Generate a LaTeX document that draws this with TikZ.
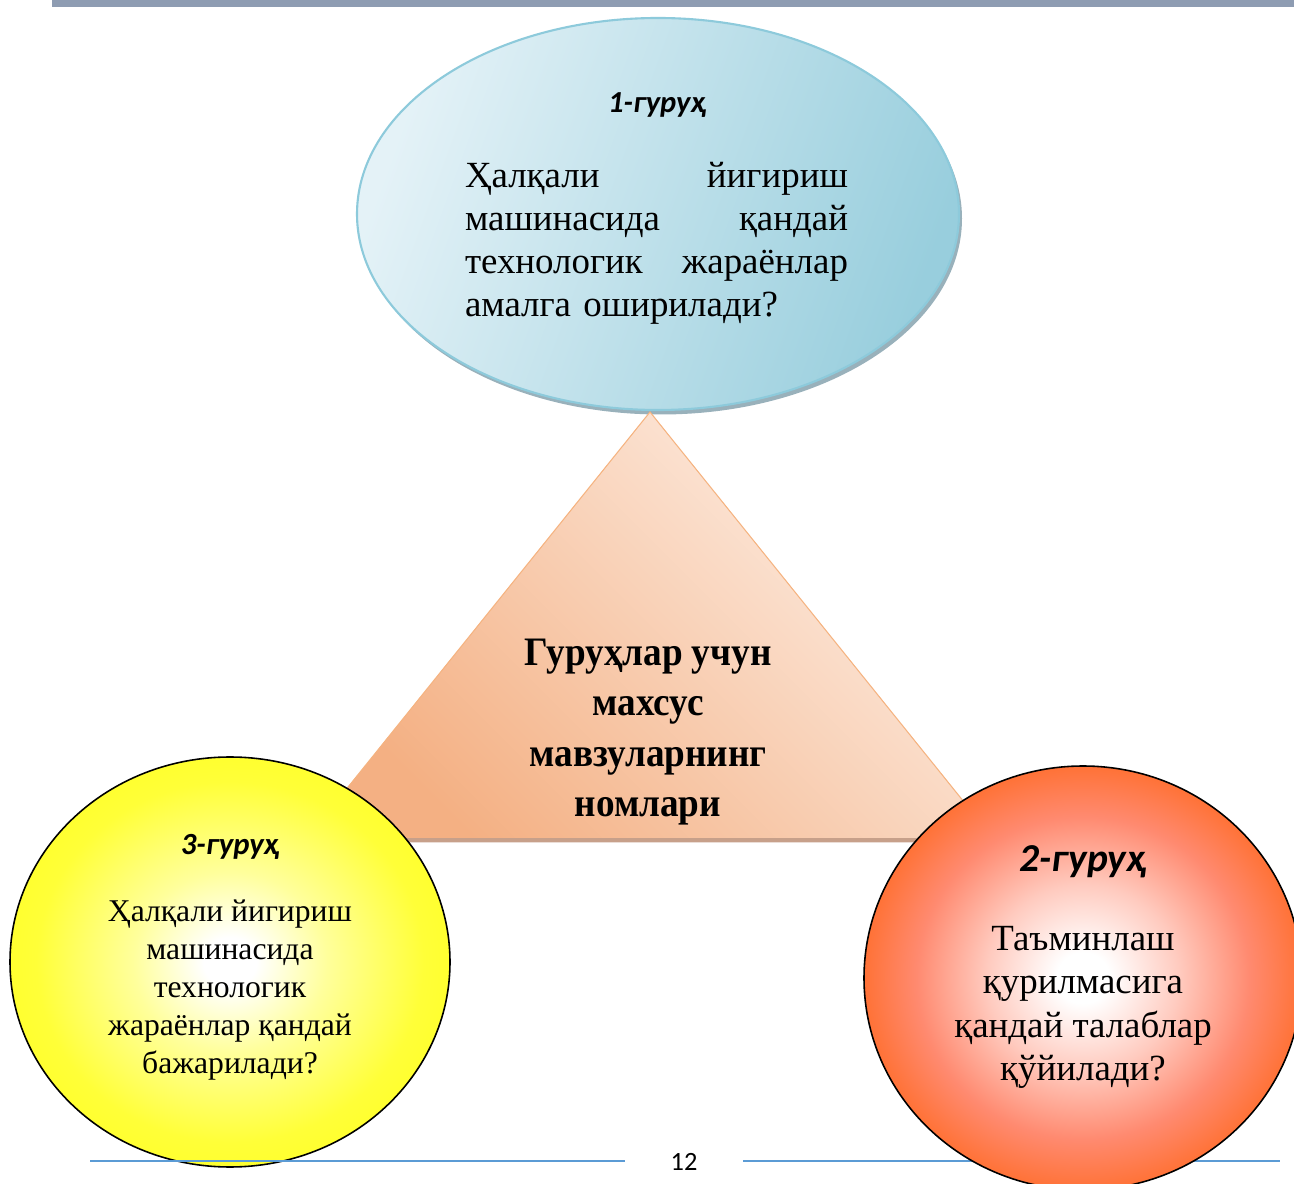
\documentclass[tikz,border=0pt]{standalone}
\usepackage{fontspec}
\setmainfont{Liberation Serif}
\newfontfamily\headfont{Carlito}
\newfontfamily\topicfont[FakeStretch=0.92]{Liberation Serif}
\usetikzlibrary{calc}
\definecolor{barblue}{HTML}{8E9CB2}
\definecolor{ellLight}{HTML}{E4F2F7}
\definecolor{ellDark}{HTML}{98CEDD}
\definecolor{ellEdge}{HTML}{8DCADB}
\definecolor{ellShadow}{HTML}{7F9DAA}
\definecolor{triLight}{HTML}{FDEFE6}
\definecolor{triDark}{HTML}{F4B083}
\definecolor{triEdge}{HTML}{F5B380}
\definecolor{triShadow}{HTML}{C7A08A}
\definecolor{ballYellow}{HTML}{FFFF22}
\definecolor{ballOrange}{HTML}{FF661A}
\definecolor{ballPink}{HTML}{FF8A70}
\definecolor{footBlue}{HTML}{5B9BD5}
\pgfdeclareradialshading{yellowball}{\pgfpoint{0bp}{0bp}}{color(0bp)=(white); color(3bp)=(white); color(11bp)=(ballYellow!45!white); color(22bp)=(ballYellow!90!white); color(30bp)=(ballYellow); color(100bp)=(ballYellow)}
\pgfdeclareradialshading{orangeball}{\pgfpoint{0bp}{0bp}}{color(0bp)=(white); color(3bp)=(white); color(11bp)=(ballPink!45!white); color(19bp)=(ballPink); color(28bp)=(ballOrange); color(100bp)=(ballOrange)}
\tikzset{
	grouptitle/.style={font=\headfont\bfseries\itshape\fontsize{#1}{#1}\selectfont},
	tasktext/.style 2 args={font=\fontsize{#1}{#2}\selectfont, align=center}
}

\begin{document}
\begin{tikzpicture}
		%%%%% START %%%%%
		\useasboundingbox (0, 0) rectangle (25.88, -23.68);
		
		\fill[barblue] (1.04, 0) rectangle (25.88, -0.14);
		
		% group 1 (ellipse)
		\fill[ellShadow, opacity=0.8] (13.22, -4.37) ellipse [x radius=6.02, y radius=3.92];
		
		% triangle
		\fill[triShadow] (6.16, -16.85) -- (13.0, -8.3) -- (19.9, -16.85) -- cycle;
		\shade[bottom color=triDark, top color=triLight, shading angle=-45] (6.14, -16.76) -- (13.0, -8.24) -- (19.86, -16.76) -- cycle;
		\draw[triEdge, line width=0.6pt] (6.14, -16.76) -- (13.0, -8.24) -- (19.86, -16.76);
		
		\shade[bottom color=ellDark, top color=ellLight, shading angle=70] (13.16, -4.28) ellipse [x radius=6.02, y radius=3.92];
		\draw[ellEdge, line width=1.2pt] (13.16, -4.28) ellipse [x radius=6.02, y radius=3.92];
		
		% group 3
		\shade[shading=yellowball] (4.6, -19.24) ellipse [x radius=4.4, y radius=4.1];
		\draw[line width=0.9pt] (4.6, -19.24) ellipse [x radius=4.4, y radius=4.1];
		
		% footer
		\draw[footBlue, line width=1.2pt] (1.8, -23.22) -- (12.5, -23.22);
		\draw[footBlue, line width=1.2pt] (14.86, -23.22) -- (25.6, -23.22);
		\node[font=\headfont\fontsize{15}{15}\selectfont] (pagenum) at (13.68, -23.24) {12};
		
		% group 2
		\shade[shading=orangeball] (21.66, -19.56) ellipse [x radius=4.38, y radius=4.24];
		\draw[line width=0.9pt] (21.66, -19.56) ellipse [x radius=4.38, y radius=4.24];
		
		% texts
		\node[grouptitle=17.4] (title1) at (13.14, -2.1) {1-гуруҳ};
		\node[font=\fontsize{21}{24.4}\selectfont, text width=7.66cm, align=left] (task1) at (13.13, -4.87) {Ҳалқали\hfill йигириш\\машинасида\hfill қандай\\технологик\hfill жараёнлар\\амалга оширилади?};
		
		\node[font=\topicfont\bfseries\fontsize{23}{28.6}\selectfont, align=center] (topic) at (12.96, -14.64) {Гуруҳлар учун\\махсус\\мавзуларнинг\\номлари};
		
		\node[grouptitle=17.5] (title3) at (4.6, -16.94) {3-гуруҳ};
		\node[tasktext={18}{21.5}] (task3) at (4.6, -19.8) {Ҳалқали йигириш\\машинасида\\технологик\\жараёнлар қандай\\бажарилади?};
		
		\node[grouptitle=22.5] (title2) at (21.66, -17.24) {2-гуруҳ};
		\node[tasktext={21}{24.6}] (task2) at (21.66, -20.15) {Таъминлаш\\қурилмасига\\қандай талаблар\\қўйилади?};
		
		%%%%% END %%%%%
	\end{tikzpicture}
\end{document}
